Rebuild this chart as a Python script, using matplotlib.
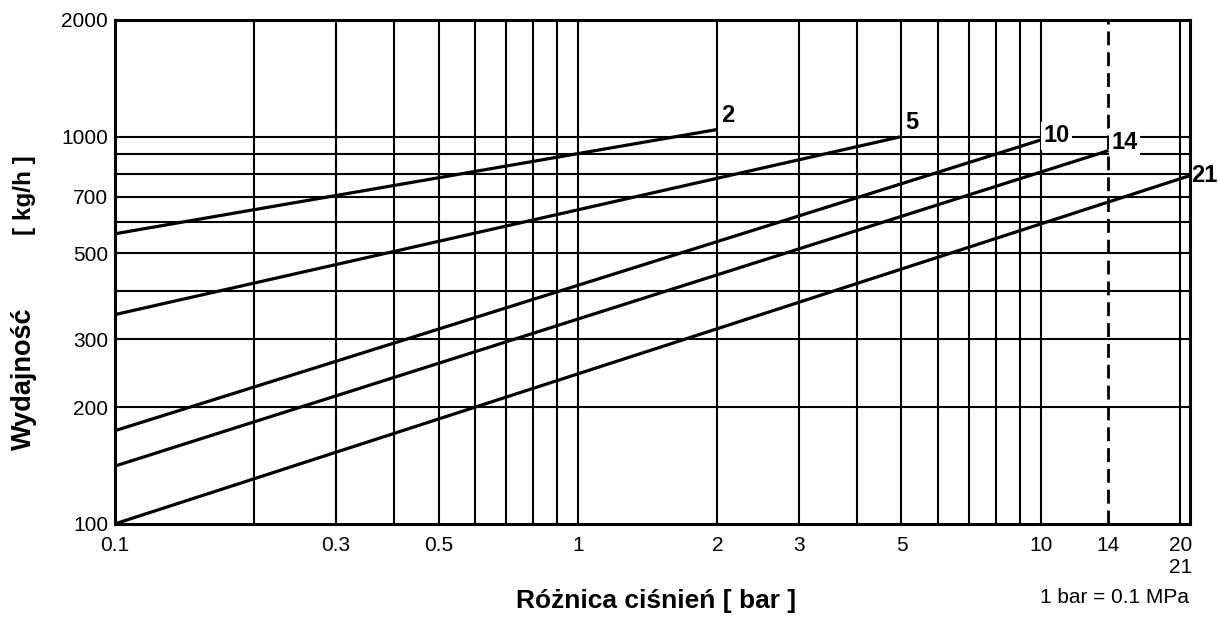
import matplotlib
matplotlib.use("Agg")
import matplotlib.pyplot as plt
import matplotlib.transforms as mtransforms
from matplotlib.ticker import FixedLocator, NullLocator

plt.rcParams['font.family'] = ['Liberation Sans', 'DejaVu Sans']

# pressure difference [bar] -> capacity [kg/h], two end points of each line
curve_names = ["2", "5", "10", "14", "21"]
curve_x = [[0.1, 2], [0.1, 5], [0.1, 10], [0.1, 14], [0.1, 21]]
curve_y = [[561, 1043], [347, 1000], [174, 980], [141, 920], [100, 793]]

x_grid = [0.2, 0.3, 0.4, 0.5, 0.6, 0.7, 0.8, 0.9, 1, 2, 3, 4, 5, 6, 7, 8, 9, 10, 20]
y_grid = [200, 300, 400, 500, 600, 700, 800, 900, 1000]
x_ticks = [0.1, 0.3, 0.5, 1, 2, 3, 5, 10, 14, 20]
x_tick_labels = ["0.1", "0.3", "0.5", "1", "2", "3", "5", "10", "14", "20"]
y_ticks = [100, 200, 300, 500, 700, 1000, 2000]
y_tick_labels = ["100", "200", "300", "500", "700", "1000", "2000"]

fig = plt.figure(figsize=(12.18, 6.17), dpi=100)
ax = fig.add_axes([0.0944, 0.151, 0.8826, 0.8166])
ax.set_xscale("log")
ax.set_yscale("log")
ax.set_xlim(0.1, 21)
ax.set_ylim(100, 2000)

# grid
for gx in x_grid:
    ax.axvline(gx, color="black", lw=1.5, zorder=1)
for gy in y_grid:
    ax.axhline(gy, color="black", lw=1.5, zorder=1)
ax.axvline(14, color="black", lw=2, ls=(0, (5, 2.5)), zorder=1)

# curves
label_offsets = {"2": (3, 2), "5": (3, 2), "10": (2, 3), "14": (2, 6), "21": (1, 0)}
for name, xs, ys in zip(curve_names, curve_x, curve_y):
    ax.plot(xs, ys, color="black", lw=2.3, zorder=3, solid_capstyle="butt")
    ax.annotate(name, (xs[-1], ys[-1]), xytext=label_offsets[name],
                textcoords="offset points", ha="left",
                va="bottom" if name in ("2", "5") else "center",
                fontsize=17, fontweight="bold", zorder=4,
                bbox=dict(boxstyle="square,pad=0.1", fc="white", ec="none"),
                annotation_clip=False)

for s in ax.spines.values():
    s.set_linewidth(2.2)
    s.set_zorder(5)

ax.xaxis.set_major_locator(FixedLocator(x_ticks))
ax.xaxis.set_minor_locator(NullLocator())
ax.set_xticklabels(x_tick_labels)
ax.yaxis.set_major_locator(FixedLocator(y_ticks))
ax.yaxis.set_minor_locator(NullLocator())
ax.set_yticklabels(y_tick_labels)
ax.tick_params(axis="x", length=0, labelsize=15, pad=9)
ax.tick_params(axis="y", length=0, labelsize=15, pad=5)

trans = mtransforms.blended_transform_factory(ax.transData, ax.transAxes)
ax.text(21.2, -0.068, "21", transform=trans, ha="right", va="top", fontsize=15)

fig.text(0.539, 0.026, "Różnica ciśnień [ bar ]", ha="center", va="center",
         fontsize=19, fontweight="bold")
fig.text(0.915, 0.032, "1 bar = 0.1 MPa", ha="center", va="center", fontsize=15)
fig.text(0.020, 0.386, "Wydajność", rotation=90, ha="center", va="center",
         fontsize=19.5, fontweight="bold")
fig.text(0.020, 0.684, "[ kg/h ]", rotation=90, ha="center", va="center",
         fontsize=17.5, fontweight="bold")

fig.savefig("out.png", dpi=100)
